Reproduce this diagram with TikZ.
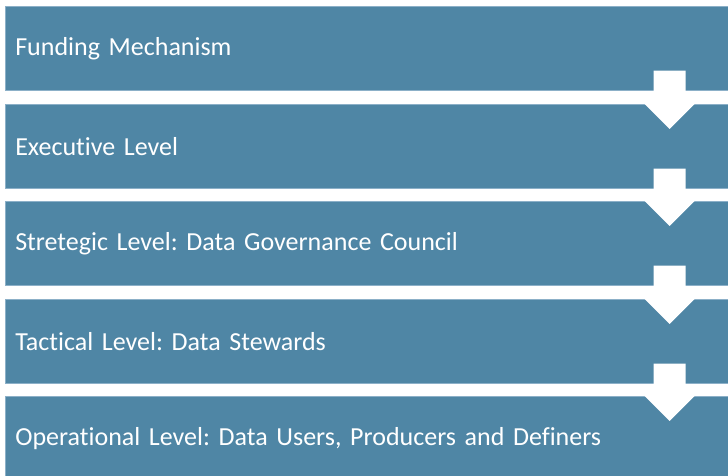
\documentclass[tikz,border=0pt]{standalone}
\usepackage{fontspec}
\setmainfont{Carlito}[Ligatures=NoCommon]
\frenchspacing
\usetikzlibrary{calc}
\definecolor{barblue}{RGB}{79,134,165}
\definecolor{barline}{RGB}{140,176,200}
\begin{document}
\begin{tikzpicture}[x=1pt,y=1pt,
  lvl/.style={rectangle,anchor=north west,fill=barblue,draw=barline,line width=0.6pt,
    text=white,font=\fontsize{26}{30}\selectfont,align=left,
    text width=703pt,inner xsep=10pt,inner ysep=0pt,minimum height=84pt}]
\useasboundingbox (0,0) rectangle (728,476);
\node (k1) at (5,470)[lvl]{Funding Mechanism};
\node (k2) at (5,372)[lvl]{Executive Level};
\node (k3) at (5,275)[lvl]{Stretegic Level: Data Governance Council};
\node (k4) at (5,177)[lvl]{Tactical Level: Data Stewards};
\node (k5) at (5,80)[lvl]{Operational Level: Data Users, Producers and Definers};

\foreach \a/\b in {k1/k2,k2/k3,k3/k4,k4/k5}
  \fill[white] ($(\a.south east)+(-75,20)$) -- ($(\a.south east)+(-43,20)$)
    -- ($(\b.north east)+(-43,0)$) -- ($(\b.north east)+(-34,0)$)
    -- ($(\b.north east)+(-59,-25)$) -- ($(\b.north east)+(-84,0)$)
    -- ($(\b.north east)+(-75,0)$) -- cycle;
\end{tikzpicture}
\end{document}
